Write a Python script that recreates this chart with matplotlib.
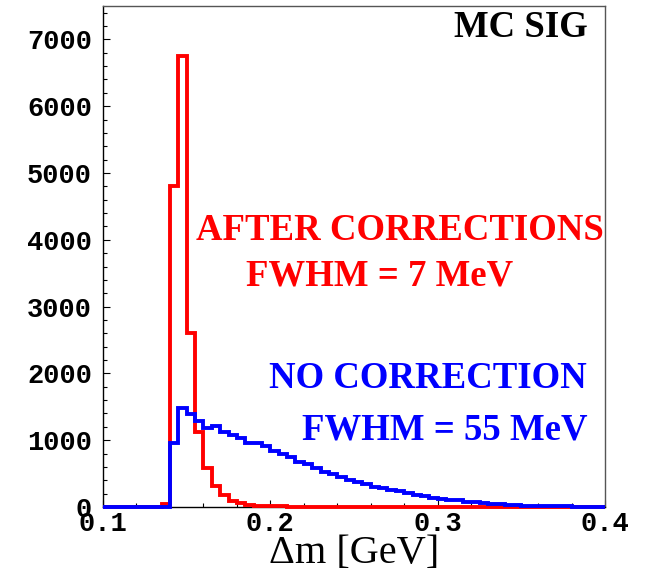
import matplotlib
matplotlib.use("Agg")
import matplotlib.pyplot as plt
import numpy as np
from matplotlib.ticker import MultipleLocator, FixedLocator

# bin edges of the histograms, 0.005 GeV wide
edges = np.linspace(0.1, 0.4, 61)

# counts after corrections (red)
after_corr = [0, 0, 0, 0, 0, 0, 0, 50, 4800, 6750,
              2600, 1130, 585, 320, 180, 95, 60, 35, 20, 15,
              10, 8, 6, 5, 4, 4, 3, 3, 2, 2,
              1, 1, 1, 1, 1, 1, 1, 1, 1, 1,
              1, 1, 1, 1, 1, 1, 1, 1, 1, 1,
              0, 0, 0, 0, 0, 0, 0, 0, 0, 0]

# counts with no correction (blue)
no_corr = [0, 0, 0, 0, 0, 0, 0, 0, 960, 1480,
           1395, 1280, 1180, 1220, 1120, 1080, 1030, 965, 955, 915,
           840, 790, 745, 680, 640, 580, 530, 495, 455, 410,
           380, 340, 305, 280, 255, 240, 205, 180, 165, 130,
           115, 105, 100, 80, 70, 60, 48, 40, 32, 27,
           22, 18, 15, 12, 10, 8, 6, 5, 4, 3]

xticks = [0.1, 0.2, 0.3, 0.4]
xticklabels = ["0.1", "0.2", "0.3", "0.4"]
yticks = [0, 1000, 2000, 3000, 4000, 5000, 6000, 7000]

W, H = 647, 574
fig = plt.figure(figsize=(W / 100, H / 100), dpi=100)
ax = fig.add_axes([103 / W, 1 - 507 / H, 502 / W, 501 / H])

ax.stairs(after_corr, edges, color=(1, 0, 0), lw=2.8, clip_on=False, zorder=3)
ax.stairs(no_corr, edges, color=(0, 0, 1), lw=2.8, clip_on=False, zorder=4)

ax.set_xlim(0.1, 0.4)
ax.set_ylim(0, 7500)

mono = dict(family="Liberation Mono", weight="bold", size=19.5)
ax.xaxis.set_major_locator(FixedLocator(xticks))
ax.set_xticklabels(xticklabels, fontdict=mono)
ax.xaxis.set_minor_locator(MultipleLocator(0.02))
ax.yaxis.set_major_locator(FixedLocator(yticks))
ax.set_yticklabels([str(v) for v in yticks], fontdict=mono)
ax.yaxis.set_minor_locator(MultipleLocator(200))
ax.tick_params(which="both", direction="in", top=False, right=False)
ax.tick_params(which="major", length=5, width=0.8)
ax.tick_params(which="minor", length=3, width=0.8)
ax.tick_params(axis="x", pad=3)
ax.tick_params(axis="y", pad=8)

for s in ["left", "bottom"]:
    ax.spines[s].set_color("black")
    ax.spines[s].set_linewidth(1.0)
for s in ["top", "right"]:
    ax.spines[s].set_color("#555555")
    ax.spines[s].set_linewidth(1.0)

ax.set_xlabel("\u0394m [GeV]", family="Liberation Serif", size=29)
ax.xaxis.label.set_va("baseline")
ax.xaxis.set_label_coords(0.5, -(563 - 507) / 501)


def put(px, py, s, color, ha):
    fig.text(px / W, 1 - py / H, s, color=color, ha=ha, va="baseline",
             family="Liberation Serif", weight="bold", size=26.5)


put(588, 37, "MC SIG", "black", "right")
put(196, 240, "AFTER CORRECTIONS", (1, 0, 0), "left")
put(246, 285, "FWHM = 7 MeV", (1, 0, 0), "left")
put(587, 388, "NO CORRECTION", (0, 0, 1), "right")
put(587, 440, "FWHM = 55 MeV", (0, 0, 1), "right")

fig.savefig("out.png", dpi=100)
